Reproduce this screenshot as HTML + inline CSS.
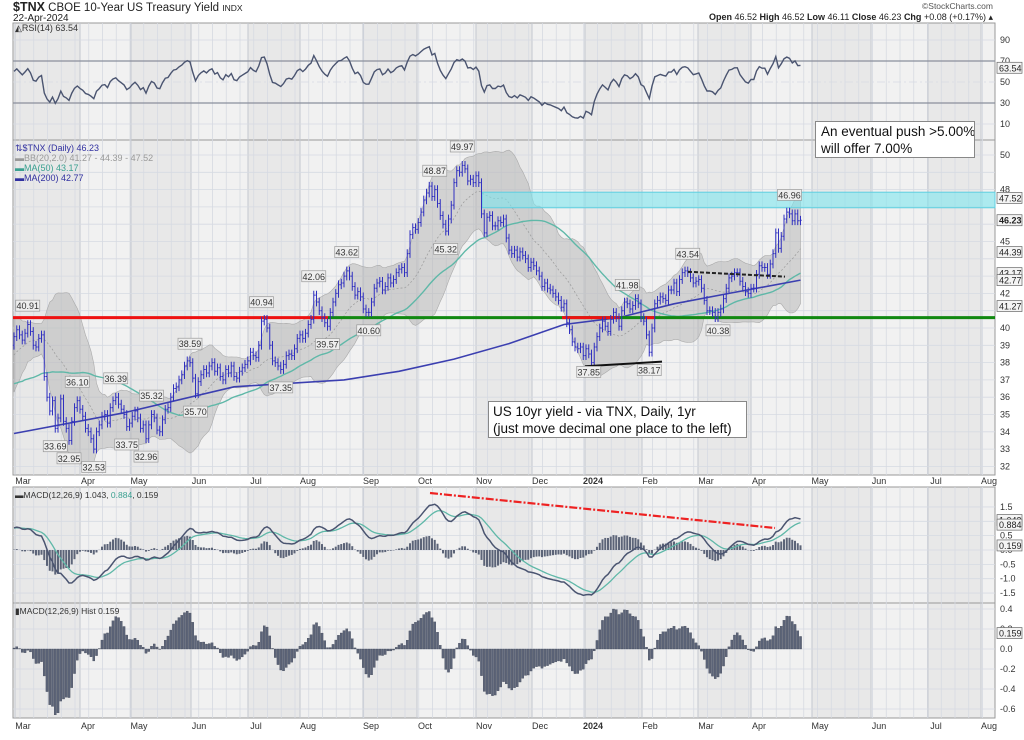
<!DOCTYPE html>
<html><head><meta charset="utf-8"><title>$TNX chart</title>
<style>
html,body{margin:0;padding:0;background:#fff;}
body{width:1024px;height:735px;overflow:hidden;font-family:"Liberation Sans",sans-serif;}
svg text{font-family:"Liberation Sans",sans-serif;}
</style></head>
<body>
<svg id="chart" width="1024" height="735" viewBox="0 0 1024 735" xmlns="http://www.w3.org/2000/svg">
  <text x="13" y="11" font-size="11.5" fill="#222"><tspan font-weight="bold" font-size="12.5">$TNX</tspan> CBOE 10-Year US Treasury Yield <tspan font-size="8.5">INDX</tspan></text>
  <text x="13" y="21" font-size="10" fill="#222">22-Apr-2024</text>
  <text x="993" y="9" font-size="8.5" fill="#555" text-anchor="end">©StockCharts.com</text>
  <text x="993" y="20" font-size="9" fill="#222" text-anchor="end"><tspan font-weight="bold">Open</tspan> 46.52 <tspan font-weight="bold">High</tspan> 46.52 <tspan font-weight="bold">Low</tspan> 46.11 <tspan font-weight="bold">Close</tspan> 46.23 <tspan font-weight="bold">Chg</tspan> +0.08 (+0.17%) ▴</text>
  <g id="bg"></g>
  <g id="grid"></g>
  <g id="marks"></g>
  <g id="labels"></g>
</svg>
<script>
// ---- data ----
const warmCloses = [38.8,37.4,37.2,37.1,35.3,37.9,37.5,37.2,35.6,35.5,35.3,35.4,35.2,34.5,34.0,35.1,34.8,35.3,35.2,34.9,35.1,35.5,35.3,35.2,34.8,33.9,35.2,35.3,36.3,36.7,36.4,36.1,36.8,36.6,37.4,37.0,38.6,38.1,38.6,38.8,38.6,38.2,39.3,39.5,39.7,39.5,39.5,38.7,39.3,39.0];
const closes = [
39.5,39.9,39.6,39.3,39.7,40.2,39.8,39.0,38.9,39.4,
39.6,37.2,36.0,35.2,35.8,34.2,34.8,35.9,34.6,34.2,
33.5,34.6,35.4,35.8,35.3,34.9,34.2,34.0,33.6,33.0,
34.0,34.4,34.9,35.0,34.5,35.4,35.8,36.0,35.6,35.3,
35.0,34.3,34.5,34.9,35.2,34.8,34.2,34.4,33.6,34.4,
35.0,34.8,34.1,34.0,34.7,35.3,35.4,36.0,36.5,36.6,
37.0,37.3,37.8,38.1,38.0,37.1,36.2,36.9,37.3,37.6,
37.4,37.8,38.0,37.5,37.7,37.2,37.0,37.6,37.4,37.8,
37.2,37.1,37.5,37.7,37.9,38.1,38.6,38.4,38.3,39.0,
40.4,40.5,40.0,39.0,38.1,38.0,37.8,37.6,37.9,38.4,
38.5,38.4,38.8,39.4,39.6,39.4,39.7,40.2,40.5,41.9,
41.5,41.0,40.6,40.3,40.1,40.9,41.5,42.0,42.5,42.6,
43.0,43.3,43.0,42.4,41.9,42.1,41.8,41.1,40.9,40.9,
41.5,42.3,42.6,42.7,42.2,42.4,42.9,42.6,42.8,43.2,
43.4,43.5,43.2,44.3,45.4,45.8,45.7,46.1,46.7,47.4,
47.8,48.2,47.6,48.0,47.2,46.5,46.0,45.6,46.3,47.1,
48.4,49.1,49.0,49.4,49.2,48.5,48.6,48.4,48.8,48.4,
46.6,45.5,46.4,46.5,45.9,45.9,46.2,46.1,46.3,45.2,
44.5,44.3,44.5,44.1,44.4,44.2,44.0,43.5,43.8,43.6,
43.3,43.0,42.4,42.6,42.3,42.2,42.0,41.8,41.6,41.2,
41.4,40.3,39.9,39.2,38.9,38.8,38.9,38.4,38.8,38.5,
38.0,38.9,39.5,40.0,40.4,40.1,39.8,40.5,40.9,40.6,
40.1,41.0,41.5,41.4,41.1,41.3,41.7,41.4,40.6,40.4,
39.6,38.6,40.0,41.4,41.6,41.8,41.7,41.6,42.2,42.2,
42.6,42.1,42.8,43.2,43.3,43.2,42.9,42.6,42.7,42.8,
42.3,41.6,41.0,41.0,40.9,40.6,40.9,41.1,41.7,42.3,
42.9,43.0,43.2,43.2,42.7,42.4,42.1,42.0,42.3,42.3,
43.1,43.6,43.5,43.5,43.1,43.7,44.3,45.5,44.6,45.3,
46.3,46.7,46.6,46.2,46.6,46.2,46.23];
const ma200Idx = [0,40,80,120,140,160,180,200,220,240,260,286];
const ma200Vals = [33.9,35.1,36.6,37.0,37.5,38.2,39.1,40.2,40.6,41.4,42.0,42.77];
const flagIdx = [5,15,20,23,29,37,41,48,50,64,66,90,97,109,114,121,129,153,157,163,209,223,231,245,256,282];
const flagVals = ["40.91","33.69","32.95","36.10","32.53","36.39","33.75","32.96","35.32","38.59","35.70","40.94","37.35","42.06","39.57","43.62","40.60","48.87","45.32","49.97","37.85","41.98","38.17","43.54","40.38","46.96"];
const flagUp = [1,0,0,1,0,1,0,0,1,1,0,1,0,1,0,1,0,1,0,1,0,1,0,1,0,1];
const monthLabels = ["Mar","Apr","May","Jun","Jul","Aug","Sep","Oct","Nov","Dec","2024","Feb","Mar","Apr","May","Jun","Jul","Aug"];
const monthPos = [23,88,139,199,256,308,371,425,484,540,593,650,706,759,820,879,936,989];
const priceTicks = [32,33,34,35,36,37,38,39,40,42,45,48,50];
const rsiTicks = [90,70,50,30,10];
const macdTicks = [1.5,1.0,0.5,0.0,-0.5,-1.0,-1.5];
const histTicks = [0.4,0.2,0.0,-0.2,-0.4,-0.6];
const supportLevel = 40.6;

// ---- scales ----
const L=13, R=995;
const xOf = i => 14 + i*2.75;
const yP = v => 155 + (50 - v)*17.3;
const yR = v => 82 - (v-50)*1.05;
const yM = v => 550 - v*28.7;
const yH = v => 649 - v*100;
const NS="http://www.w3.org/2000/svg";
function mk(tag, attrs, parent){const e=document.createElementNS(NS,tag);for(const k in attrs)e.setAttribute(k,attrs[k]);parent.appendChild(e);return e;}
const bg=document.getElementById('bg'), grid=document.getElementById('grid'), marks=document.getElementById('marks'), labels=document.getElementById('labels');

// ---- indicators ----
const all = warmCloses.concat(closes), W = warmCloses.length;
function ema(arr,n){const k=2/(n+1);const out=[arr[0]];for(let i=1;i<arr.length;i++)out.push(arr[i]*k+out[i-1]*(1-k));return out;}
const e12=ema(all,12), e26=ema(all,26);
const macd=all.map((v,i)=>e12[i]-e26[i]);
const sig=ema(macd,9);
const hist=macd.map((v,i)=>v-sig[i]);
const rsi=[];{let ag=0,al=0;for(let i=1;i<all.length;i++){const d=all[i]-all[i-1];const g=Math.max(d,0),l=Math.max(-d,0);if(i<=14){ag+=g/14;al+=l/14;}else{ag=(ag*13+g)/14;al=(al*13+l)/14;}rsi[i]=al===0?100:100-100/(1+ag/al);}}
function sma(i,n){let s=0;for(let j=i-n+1;j<=i;j++)s+=all[j];return s/n;}
function sd(i,n,m){let s=0;for(let j=i-n+1;j<=i;j++)s+=(all[j]-m)**2;return Math.sqrt(s/n);}

// ---- panels ----
const panels=[["rsi-panel",23,140],["price-panel",140,475],["macd-panel",487,603],["histogram-panel",603,718]];
panels.forEach(p=>{
  const r=mk('rect',{x:L,y:p[1],width:R-L,height:p[2]-p[1],fill:'#f1f1f1',stroke:'#999','stroke-width':1},bg);
  
  
  for(let m=0;m<monthPos.length;m+=2){
    const x0=monthPos[m]-8, x1=(m+1<monthPos.length?monthPos[m+1]-8:R);
    const s=mk('rect',{x:Math.max(L,x0),y:p[1]+0.5,width:Math.min(R,x1)-Math.max(L,x0),height:p[2]-p[1]-1,fill:'#e8e8e8'},bg);
    
    
  }
  for(let x=L+7;x<R;x+=13.75){
    const g=mk('line',{x1:x,x2:x,y1:p[1],y2:p[2],stroke:'#d6dae2','stroke-width':0.8},grid);
    
    
  }
  monthPos.forEach(mp=>{
    const g=mk('line',{x1:mp-8,x2:mp-8,y1:p[1],y2:p[2],stroke:'#c4c8d0','stroke-width':1},grid);
    
    
  });
});
// horizontal grids
for(let v=32;v<=50;v++){const g=mk('line',{x1:L,x2:R,y1:yP(v),y2:yP(v),stroke:'#d6dae2','stroke-width':0.8},grid);}
rsiTicks.forEach(v=>{const g=mk('line',{x1:L,x2:R,y1:yR(v),y2:yR(v),stroke:(v==70||v==30)?'#8a8f9c':'#d6dae2','stroke-width':(v==70||v==30)?1.3:0.8,'stroke-dasharray':v==50?'8,3,2,3':'none'},grid);});
macdTicks.forEach(v=>{const g=mk('line',{x1:L,x2:R,y1:yM(v),y2:yM(v),stroke:'#d6dae2','stroke-width':0.8},grid);});
histTicks.forEach(v=>{const g=mk('line',{x1:L,x2:R,y1:yH(v),y2:yH(v),stroke:'#d6dae2','stroke-width':0.8},grid);});

// ---- RSI line ----
{let d='';closes.forEach((c,i)=>{d+=(i?'L':'M')+xOf(i).toFixed(1)+','+yR(rsi[W+i]).toFixed(1);});
const p=mk('path',{d:d,fill:'none',stroke:'#4a5470','stroke-width':1.4},marks);

}

// ---- Bollinger band ----
{let up=[],lo=[],mid=[];closes.forEach((c,i)=>{const m=sma(W+i,20),s=sd(W+i,20,m);up.push(xOf(i).toFixed(1)+','+yP(m+2*s).toFixed(1));lo.push(xOf(i).toFixed(1)+','+yP(m-2*s).toFixed(1));mid.push(xOf(i).toFixed(1)+','+yP(m).toFixed(1));});
const b=mk('polygon',{points:up.concat(lo.reverse()).join(' '),fill:'#b8b8b8','fill-opacity':0.55,stroke:'#aaa','stroke-width':0.6},marks);


const m=mk('polyline',{points:mid.join(' '),fill:'none',stroke:'#999','stroke-width':0.7,'stroke-dasharray':'2,2'},marks);

}

// ---- cyan resistance zone ----
{const c=mk('rect',{x:482,y:yP(47.85),width:R-482,height:yP(46.95)-yP(47.85),fill:'#7fe6ee','fill-opacity':0.6,stroke:'#5fcfe0','stroke-width':1},marks);

}

// ---- MA50 / MA200 ----
{let pts=[];closes.forEach((c,i)=>pts.push(xOf(i).toFixed(1)+','+yP(sma(W+i,50)).toFixed(1)));
const l=mk('polyline',{points:pts.join(' '),fill:'none',stroke:'#5fb8a8','stroke-width':1.4},marks);

}
{const pts=ma200Idx.map((ix,k)=>xOf(ix).toFixed(1)+','+yP(ma200Vals[k]).toFixed(1));
const l=mk('polyline',{points:pts.join(' '),fill:'none',stroke:'#3b3fb0','stroke-width':1.6},marks);

}

// ---- support line ----
{const ys=yP(supportLevel);
[[L,328,'#ee1111'],[328,R,'#118811'],[562,620,'#ee1111'],[645,655,'#ee1111']].forEach(s=>{
const l=mk('line',{x1:s[0],x2:s[1],y1:ys,y2:ys,stroke:s[2],'stroke-width':3},marks);

});}

// ---- price bars ----
closes.forEach((c,i)=>{
  const o=i?closes[i-1]:warmCloses[W-1];
  const hi=Math.max(o,c)+0.25, lo=Math.min(o,c)-0.25, x=xOf(i);
  const g=mk('path',{d:`M${x},${yP(hi)}V${yP(lo)}M${x-1.2},${yP(o)}H${x}M${x},${yP(c)}H${x+1.2}`,stroke:'#3030c0','stroke-width':1,fill:'none'},marks);
  
  
});

// ---- trendlines ----
{const a=mk('line',{x1:585,y1:yP(37.85)+1,x2:662,y2:yP(38.17)+2,stroke:'#111','stroke-width':2},marks);


const b=mk('line',{x1:688,y1:yP(43.54)+5,x2:785,y2:yP(43.2)+4,stroke:'#222','stroke-width':2,'stroke-dasharray':'4,2'},marks);

}

// ---- price flags ----
flagIdx.forEach((ix,k)=>{
  const x=xOf(ix), c=closes[ix], up=flagUp[k];
  const y = up ? yP(c+0.6)-8 : yP(c-0.6)+8;
  const r=mk('rect',{x:x-12,y:y-6,width:24,height:11,fill:'#eee',stroke:'#999','stroke-width':0.7},labels);
  
  
  const t=mk('text',{x:x,y:y+3,'font-size':9,'text-anchor':'middle',fill:'#333'},labels);
  t.textContent=flagVals[k];
  
  
});

// ---- MACD panel ----
closes.forEach((c,i)=>{const h=hist[W+i]*1.3;const r=mk('rect',{x:xOf(i)-1,y:Math.min(yM(0),yM(h)),width:2,height:Math.abs(yM(h)-yM(0)),fill:'#5c6478'},marks);});
{let d1='',d2='';closes.forEach((c,i)=>{d1+=(i?'L':'M')+xOf(i).toFixed(1)+','+yM(macd[W+i]).toFixed(1);d2+=(i?'L':'M')+xOf(i).toFixed(1)+','+yM(sig[W+i]).toFixed(1);});
const s=mk('path',{d:d2,fill:'none',stroke:'#5fb8a8','stroke-width':1.3},marks);


const m=mk('path',{d:d1,fill:'none',stroke:'#4a5470','stroke-width':1.5},marks);

}
{const l=mk('line',{x1:430,y1:493,x2:775,y2:528,stroke:'#ee2222','stroke-width':2.2,'stroke-dasharray':'8,2,2,2'},marks);

}

// ---- histogram panel ----
closes.forEach((c,i)=>{const h=hist[W+i];const r=mk('rect',{x:xOf(i)-1.1,y:Math.min(yH(0),yH(h)),width:2.2,height:Math.abs(yH(h)-yH(0)),fill:'#5c6478',stroke:'#3a4050','stroke-width':0.3},marks);});

// ---- axis labels ----
priceTicks.forEach(v=>{const t=mk('text',{x:1000,y:yP(v)+3,'font-size':9,fill:'#333'},labels);t.textContent=String(v);});
rsiTicks.forEach(v=>{const t=mk('text',{x:1000,y:yR(v)+3,'font-size':9,fill:'#333'},labels);t.textContent=String(v);});
macdTicks.forEach(v=>{const t=mk('text',{x:1000,y:yM(v)+3,'font-size':9,fill:'#333'},labels);t.textContent=v.toFixed(1);});
histTicks.forEach(v=>{const t=mk('text',{x:1000,y:yH(v)+3,'font-size':9,fill:'#333'},labels);t.textContent=v.toFixed(1);});
monthLabels.forEach((m,k)=>{[484,729].forEach(yy=>{const t=mk('text',{x:monthPos[k],y:yy,'font-size':9,'text-anchor':'middle',fill:'#333','font-weight':m==='2024'?'bold':'normal'},labels);t.textContent=m;});});
// value boxes at right
[[yR(63.54),'63.54'],[yP(47.52),'47.52'],[yP(46.23),'46.23'],[yP(44.39),'44.39'],[yP(43.17),'43.17'],[yP(42.77),'42.77'],[yP(41.27),'41.27'],[yM(1.043),'1.043'],[yM(0.884),'0.884'],[yM(0.159),'0.159'],[yH(0.159),'0.159']].forEach(b=>{
  const r=mk('rect',{x:997,y:b[0]-5.5,width:25,height:11,fill:'#f4f4f4',stroke:'#666','stroke-width':0.7},labels);
  
  
  const t=mk('text',{x:999,y:b[0]+3.5,'font-size':9,fill:'#222','font-weight':b[1]==='46.23'?'bold':'normal'},labels);
  t.textContent=b[1];
  
  
});
</script>
<div style="position:absolute;left:15px;top:23px;font-size:9px;color:#333;">◭RSI(14) 63.54</div>
<div style="position:absolute;left:15px;top:143px;font-size:9px;line-height:10px;">
  <div style="color:#3030a0">⇅$TNX (Daily) 46.23</div>
  <div style="color:#999">▬BB(20,2.0) 41.27 - 44.39 - 47.52</div>
  <div style="color:#3aa090">▬MA(50) 43.17</div>
  <div style="color:#3030a0">▬MA(200) 42.77</div>
</div>
<div style="position:absolute;left:15px;top:490px;font-size:8.5px;color:#333;">▬MACD(12,26,9) 1.043, <span style="color:#3aa090">0.884</span>, 0.159</div>
<div style="position:absolute;left:15px;top:606px;font-size:8.5px;color:#333;">▮MACD(12,26,9) Hist 0.159</div>
<div style="position:absolute;left:815px;top:121px;width:160px;height:37px;box-sizing:border-box;border:1px solid #888;background:#fff;font-size:13.5px;line-height:17px;padding:1px 5px;color:#111;white-space:nowrap;overflow:hidden;">An eventual push &gt;5.00%<br>will offer 7.00%</div>
<div style="position:absolute;left:488px;top:401px;width:259px;height:37px;box-sizing:border-box;border:1px solid #888;background:#fff;font-size:13.5px;line-height:17px;padding:1px 4px;color:#111;white-space:nowrap;overflow:hidden;">US 10yr yield - via TNX, Daily, 1yr<br>(just move decimal one place to the left)</div>
</body></html>
